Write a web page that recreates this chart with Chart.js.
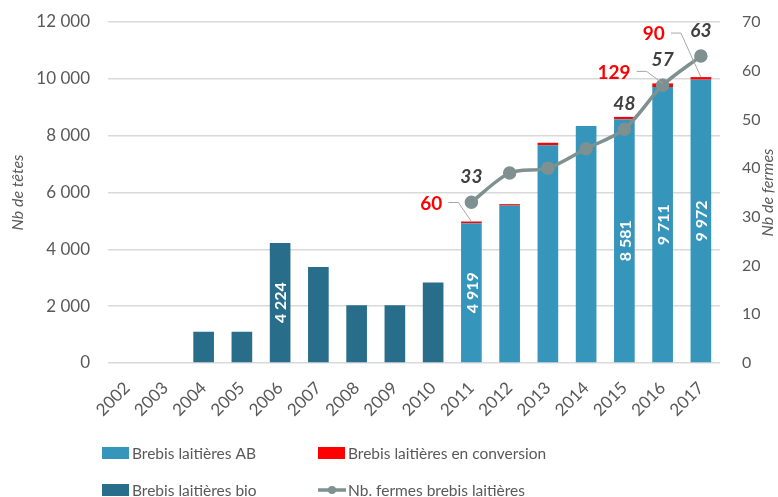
<!DOCTYPE html>
<html>
<head>
<meta charset="utf-8">
<script src="https://cdn.jsdelivr.net/npm/chart.js@4"></script>
<style>
  html, body { margin: 0; padding: 0; background: #fff; }
  #wrap { width: 778px; height: 497px; }
</style>
</head>
<body>
<div id="wrap"><canvas id="diagram" width="778" height="497"></canvas></div>
<script>
const years = ['2002','2003','2004','2005','2006','2007','2008','2009','2010','2011','2012','2013','2014','2015','2016','2017'];
const bioHeads  = [null, null, 1100, 1100, 4224, 3380, 2030, 2030, 2830, null, null, null, null, null, null, null];
const abHeads   = [null, null, null, null, null, null, null, null, null, 4919, 5540, 7660, 8340, 8581, 9711, 9972];
const convHeads = [null, null, null, null, null, null, null, null, null, 60, 50, 90, 0, 80, 129, 90];
const farms     = [null, null, null, null, null, null, null, null, null, 33, 39, 40, 44, 48, 57, 63];
const leftTicks = [0, 2000, 4000, 6000, 8000, 10000, 12000];
const rightTicks = [0, 10, 20, 30, 40, 50, 60, 70];

// which values get a label
const barLabelYears = ['2006', '2011', '2015', '2016', '2017'];
const convLabelYears = ['2011', '2016', '2017'];
const farmLabelYears = ['2011', '2015', '2016', '2017'];

// label placement (style): text right edge / vertical centre vs. bar top
const convLabelPos = { '2011': [-29, -18], '2016': [-32, -11], '2017': [-36, -43] };

const C_AB = '#3595BB', C_BIO = '#286E8B', C_CONV = '#FF0000', C_LINE = '#7F9090';
const TXT = '#595959';
const FONT = 'Lato, "Open Sans", sans-serif';

const fmt = v => String(v).replace(/\B(?=(\d{3})+(?!\d))/g, ' ');

const labels = {
  id: 'labels',
  afterDatasetsDraw(chart) {
    const c = chart.ctx;
    const bio = chart.getDatasetMeta(0).data;
    const ab = chart.getDatasetMeta(1).data;
    const conv = chart.getDatasetMeta(2).data;
    const line = chart.getDatasetMeta(3).data;
    c.save();
    // values inside bars
    c.fillStyle = '#fff';
    c.font = 'bold 16px ' + FONT;
    c.textAlign = 'center';
    c.textBaseline = 'middle';
    barLabelYears.forEach(y => {
      const i = years.indexOf(y);
      const el = bioHeads[i] != null ? bio[i] : ab[i];
      const v = bioHeads[i] != null ? bioHeads[i] : abHeads[i];
      c.save();
      c.translate(el.x, (el.y + el.base) / 2);
      c.rotate(-Math.PI / 2);
      c.fillText(fmt(v), 0, 1);
      c.restore();
    });
    // conversion labels with leader lines
    convLabelYears.forEach(y => {
      const i = years.indexOf(y);
      const el = conv[i];
      const [dx, dy] = convLabelPos[y];
      const rx = el.x + dx, ty = el.y + dy;
      c.fillStyle = C_CONV;
      c.font = 'bold 19px ' + FONT;
      c.textAlign = 'right';
      c.fillText(String(convHeads[i]), rx, ty);
      c.strokeStyle = '#A6A6A6';
      c.lineWidth = 1;
      c.beginPath();
      c.moveTo(rx + 6, ty - 1);
      c.lineTo(rx + 16, ty - 1);
      c.lineTo(el.x, el.y);
      c.stroke();
    });
    // farm labels
    c.fillStyle = '#404040';
    c.font = 'italic bold 19px ' + FONT;
    c.textAlign = 'center';
    farmLabelYears.forEach(y => {
      const i = years.indexOf(y);
      const p = line[i];
      c.fillText(String(farms[i]), p.x, p.y - 25);
    });
    c.restore();
  },
  afterDraw(chart) {
    const c = chart.ctx;
    const a = chart.chartArea;
    c.save();
    // axis titles
    c.fillStyle = TXT;
    c.font = 'italic 16px ' + FONT;
    c.textAlign = 'center';
    c.textBaseline = 'middle';
    const my = (a.top + a.bottom) / 2;
    c.save(); c.translate(18, my); c.rotate(-Math.PI / 2); c.fillText('Nb de têtes', 0, 0); c.restore();
    c.save(); c.translate(768, my); c.rotate(-Math.PI / 2); c.fillText('Nb de fermes', 0, 0); c.restore();
    // legend
    const items = [
      { t: 'Brebis laitières AB', col: C_AB, x: 102, y: 453 },
      { t: 'Brebis laitières en conversion', col: C_CONV, x: 318, y: 453 },
      { t: 'Brebis laitières bio', col: C_BIO, x: 102, y: 490 },
      { t: 'Nb. fermes brebis laitières', col: C_LINE, x: 318, y: 490, line: true }
    ];
    c.font = '15.5px ' + FONT;
    c.textAlign = 'left';
    items.forEach(it => {
      if (it.line) {
        c.strokeStyle = it.col; c.lineWidth = 3.5;
        c.beginPath(); c.moveTo(it.x, it.y); c.lineTo(it.x + 28, it.y); c.stroke();
        c.fillStyle = it.col;
        c.beginPath(); c.arc(it.x + 14, it.y, 4, 0, Math.PI * 2); c.fill();
      } else {
        c.fillStyle = it.col;
        c.fillRect(it.x, it.y - 6, 27, 12);
      }
      c.fillStyle = TXT;
      c.fillText(it.t, it.x + 30, it.y + 1);
    });
    c.restore();
  }
};

const ctx = document.getElementById('diagram');
new Chart(ctx, {
  data: {
    labels: years,
    datasets: [
      { type: 'bar', label: 'Brebis laitières bio', data: bioHeads, backgroundColor: C_BIO, stack: 's', yAxisID: 'y', order: 2 },
      { type: 'bar', label: 'Brebis laitières AB', data: abHeads, backgroundColor: C_AB, stack: 's', yAxisID: 'y', order: 2 },
      { type: 'bar', label: 'Brebis laitières en conversion', data: convHeads, backgroundColor: C_CONV, stack: 's', yAxisID: 'y', order: 2 },
      { type: 'line', label: 'Nb. fermes brebis laitières', data: farms, yAxisID: 'y2', borderColor: C_LINE, backgroundColor: C_LINE,
        borderWidth: 3.5, pointRadius: 5, pointHoverRadius: 5, tension: 0.3, order: 1 }
    ]
  },
  options: {
    responsive: false,
    animation: false,
    layout: { padding: { top: 22, bottom: 0, left: 0, right: 0 } },
    datasets: { bar: { barPercentage: 0.54, categoryPercentage: 1 } },
    scales: {
      x: {
        stacked: true,
        grid: { display: false },
        border: { display: false },
        ticks: { color: TXT, font: { family: FONT, size: 17 }, maxRotation: 45, minRotation: 45, padding: 7 },
        afterFit: s => { s.height = 134; }
      },
      y: {
        stacked: true,
        position: 'left',
        min: 0, max: 12000,
        afterBuildTicks: s => { s.ticks = leftTicks.map(v => ({ value: v })); },
        grid: { color: '#D9D9D9', lineWidth: 1.5, drawTicks: false },
        border: { display: false },
        ticks: { color: TXT, font: { family: FONT, size: 17 }, padding: 18, callback: v => fmt(v) },
        afterFit: s => { s.width = 108; s.paddingTop = 0; s.paddingBottom = 0; }
      },
      y2: {
        position: 'right',
        min: 0, max: 70,
        afterBuildTicks: s => { s.ticks = rightTicks.map(v => ({ value: v })); },
        grid: { display: false },
        border: { display: false },
        ticks: { color: TXT, font: { family: FONT, size: 16 }, padding: 14 },
        afterFit: s => { s.width = 58; s.paddingTop = 0; s.paddingBottom = 0; }
      }
    },
    plugins: {
      legend: { display: false },
      tooltip: { enabled: false }
    }
  },
  plugins: [labels]
});
</script>
</body>
</html>
